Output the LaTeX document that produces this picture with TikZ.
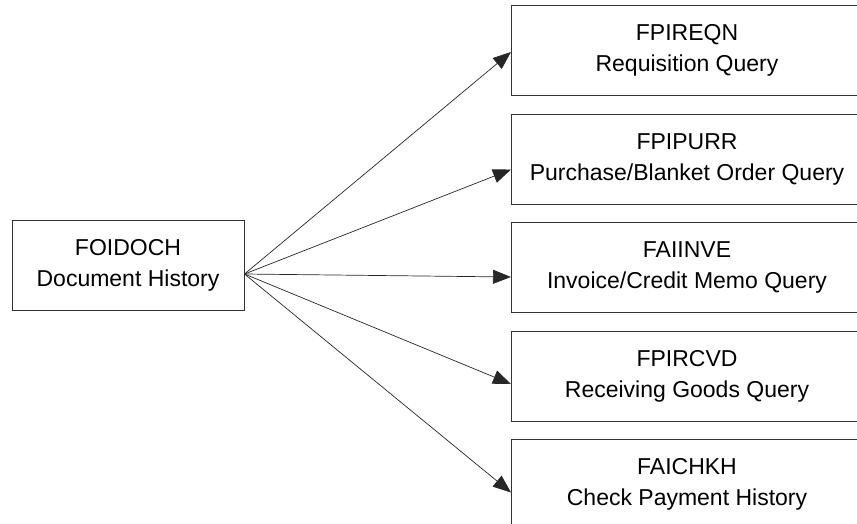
\documentclass[tikz,border=0pt]{standalone}
\usepackage{fontspec}
\setmainfont{Liberation Sans}
\usetikzlibrary{arrows.meta}
\usetikzlibrary{positioning}
\tikzset{qbox/.style = {draw=black!80, line width=1, rectangle, align=center,
                        minimum height=90, inner sep=0,
                        font=\fontsize{23}{31}\selectfont}}
\tikzset{qarr/.style = {-{Triangle[length=18pt,width=14pt]}, line width=0.7,
                        draw=black!85}}

\begin{document}
\begin{tikzpicture}[x=1pt, y=-1pt]
    \useasboundingbox (0, 0) rectangle (857, 523);
    \clip (0, 0) rectangle (857, 523);

    \node [qbox, minimum width=232] (foidoch) at (128, 265.5)
      {FOIDOCH\\Document History};

    \node [qbox, minimum width=351, anchor=north west] (fpireqn) at (511, 5)
      {FPIREQN\\Requisition Query};
    \node [qbox, minimum width=351, below=17.5pt of fpireqn] (fpipurr)
      {FPIPURR\\Purchase/Blanket Order Query};
    \node [qbox, minimum width=351, below=17.5pt of fpipurr] (faiinve)
      {FAIINVE\\Invoice/Credit Memo Query};
    \node [qbox, minimum width=351, below=17.5pt of faiinve] (fpircvd)
      {FPIRCVD\\Receiving Goods Query};
    \node [qbox, minimum width=351, below=17.5pt of fpircvd] (faichkh)
      {FAICHKH\\Check Payment History};

    \coordinate (src) at ([yshift=-8.5pt]foidoch.east);
    \draw [qarr] (src) -- ([yshift=-1.5pt]fpireqn.west);
    \draw [qarr] (src) -- ([yshift=-10.5pt]fpipurr.west);
    \draw [qarr] (src) -- ([yshift=-9.5pt]faiinve.west);
    \draw [qarr] (src) -- ([yshift=-8pt]fpircvd.west);
    \draw [qarr] (src) -- ([yshift=-8pt]faichkh.west);
  \end{tikzpicture}
\end{document}
